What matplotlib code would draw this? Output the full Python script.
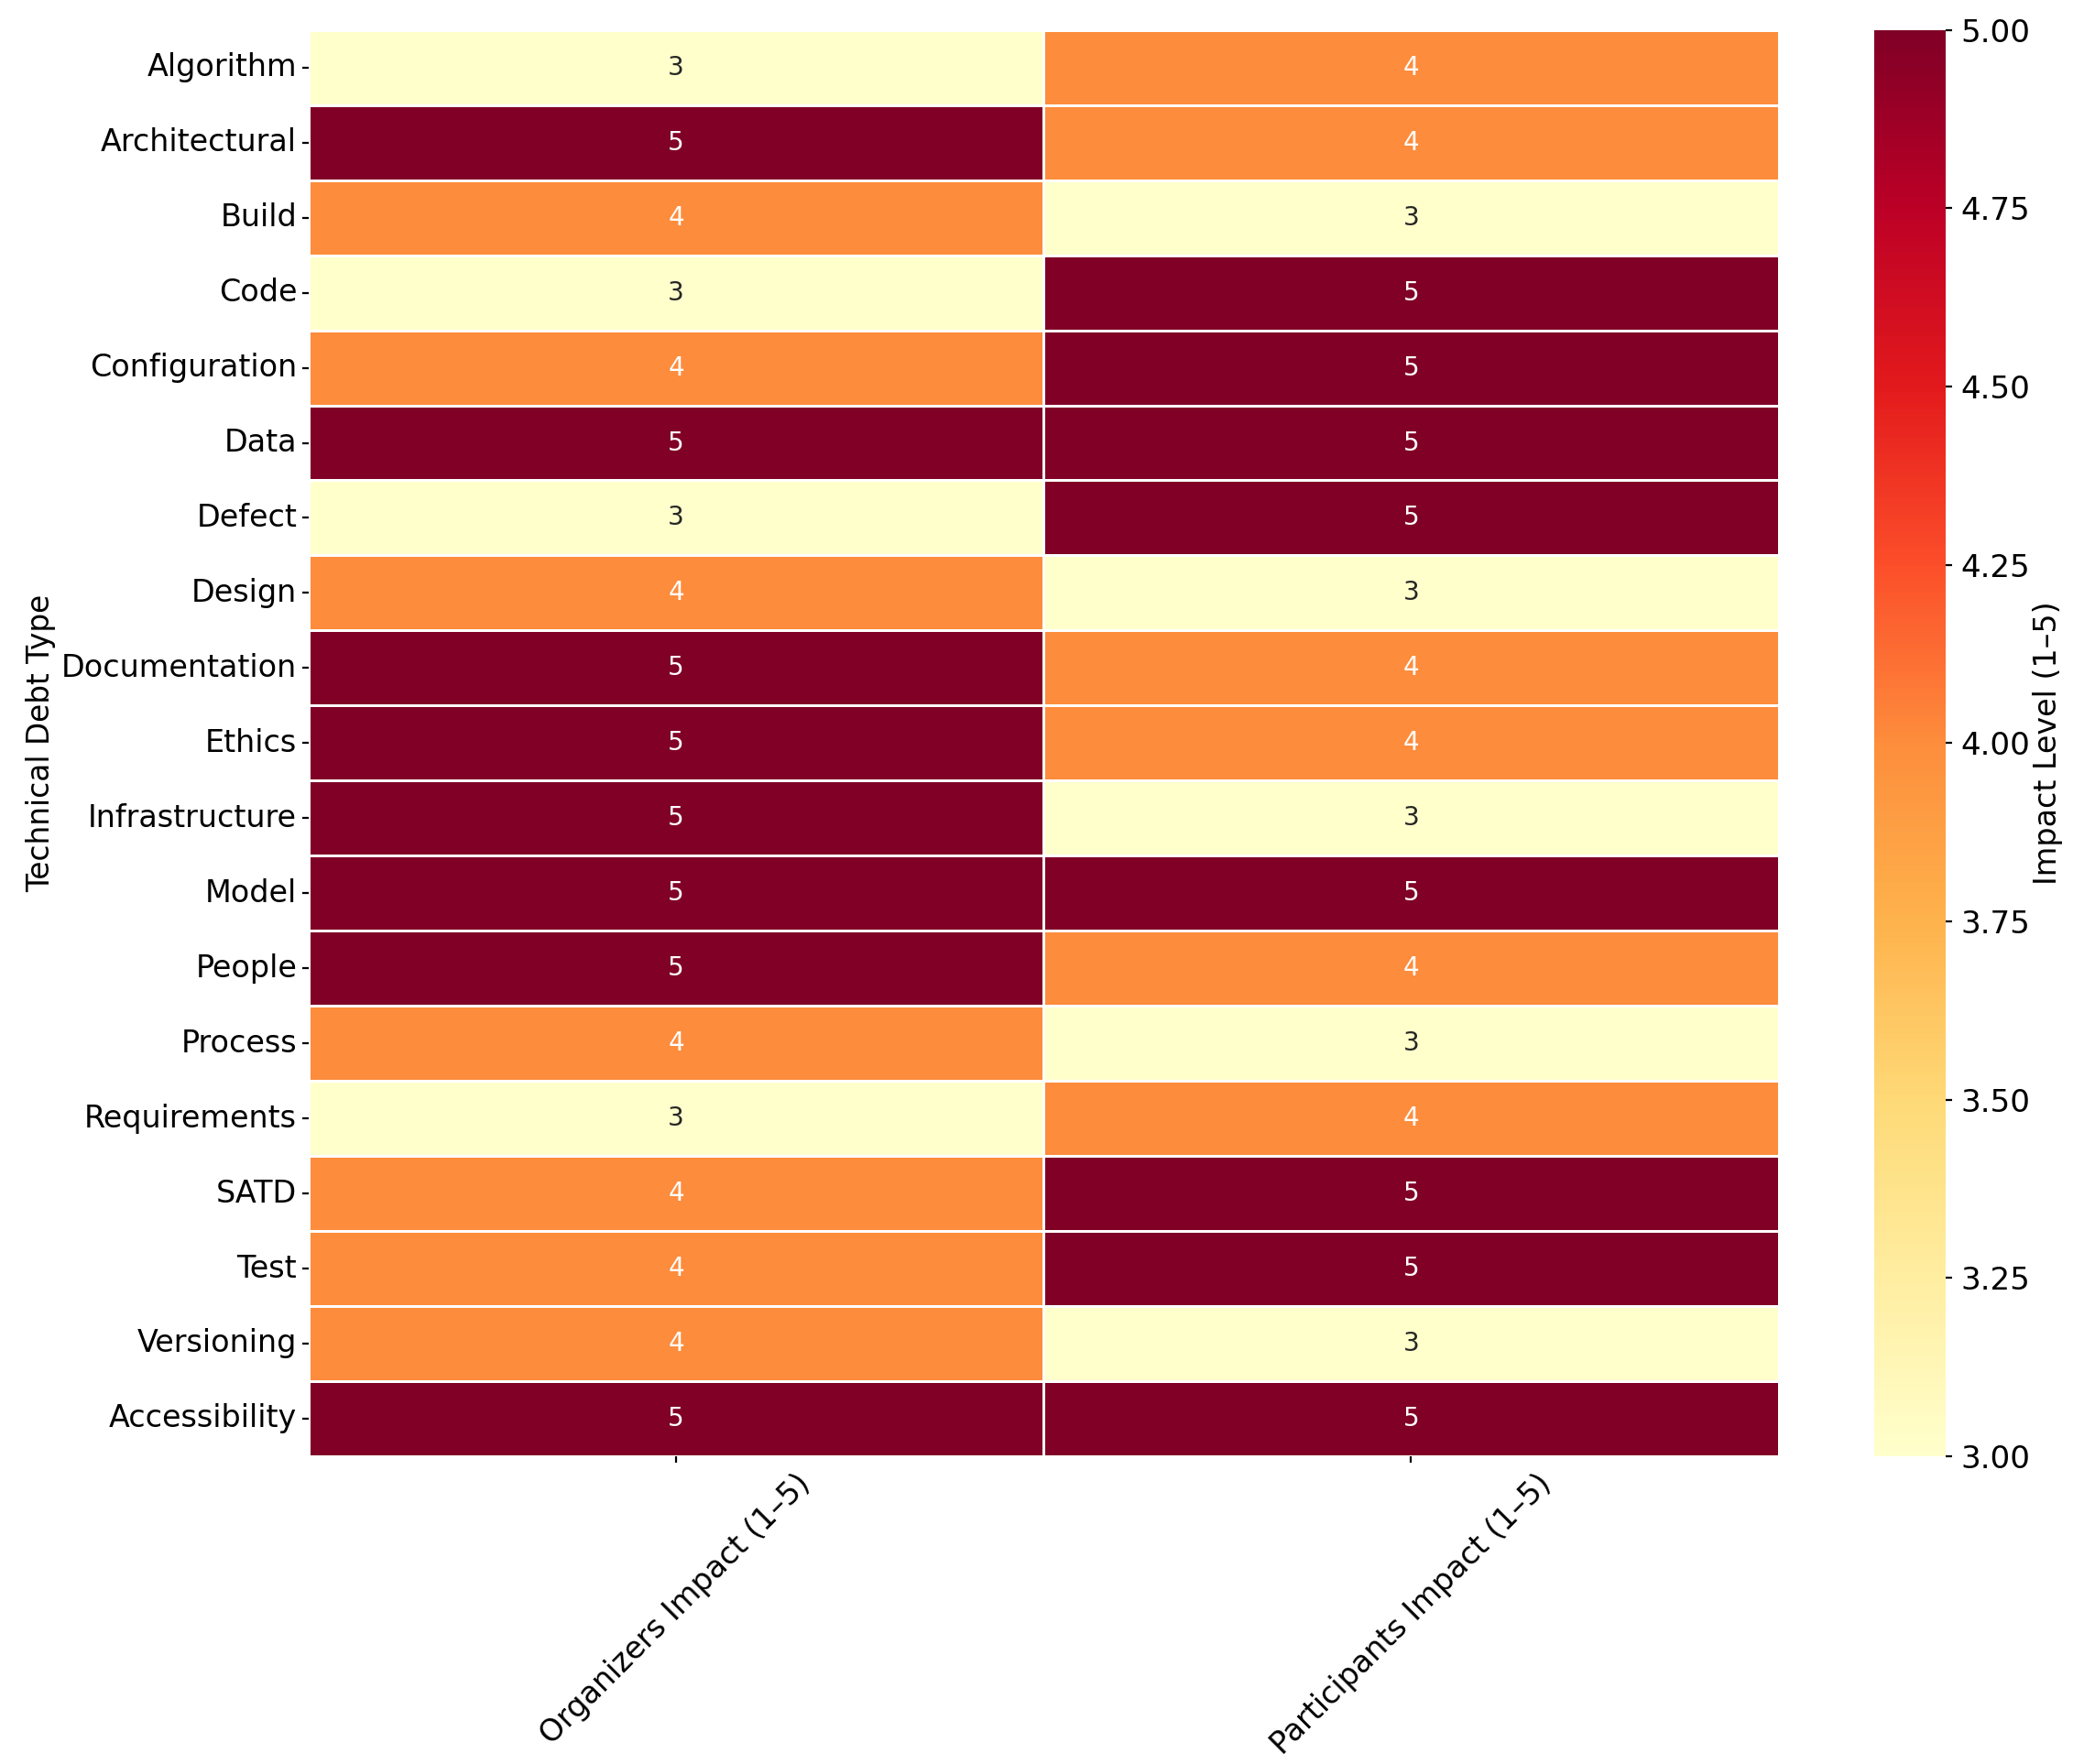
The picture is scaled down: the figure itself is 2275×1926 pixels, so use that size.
import matplotlib
matplotlib.use('Agg')
import matplotlib.pyplot as plt
import numpy as np
import pandas as pd
import seaborn as sns

debtTypes = ['Algorithm', 'Architectural', 'Build', 'Code', 'Configuration', 'Data',
             'Defect', 'Design', 'Documentation', 'Ethics', 'Infrastructure', 'Model',
             'People', 'Process', 'Requirements', 'SATD', 'Test', 'Versioning',
             'Accessibility']
organizersImpact = [3, 5, 4, 3, 4, 5, 3, 4, 5, 5, 5, 5, 5, 4, 3, 4, 4, 4, 5]
participantsImpact = [4, 4, 3, 5, 5, 5, 5, 3, 4, 4, 3, 5, 4, 3, 4, 5, 5, 3, 5]
columnNames = ['Organizers Impact (1–5)', 'Participants Impact (1–5)']
cbarTicks = [3.00, 3.25, 3.50, 3.75, 4.00, 4.25, 4.50, 4.75, 5.00]

df = pd.DataFrame({columnNames[0]: organizersImpact,
                   columnNames[1]: participantsImpact}, index=debtTypes)

fig = plt.figure(figsize=(11.375, 9.63), dpi=200)
ax = fig.add_axes([0.148, 0.1745, 0.7055, 0.8085])
cax = fig.add_axes([0.8995, 0.1745, 0.034, 0.8085])

sns.heatmap(df, ax=ax, cbar_ax=cax, cmap='YlOrRd', annot=True, fmt='d',
            linewidths=1, linecolor='white', annot_kws={'fontsize': 10},
            cbar_kws={'ticks': cbarTicks, 'format': '%.2f'})

ax.set_ylabel('Technical Debt Type', fontsize=11.8, labelpad=2)
ax.set_xlabel('')
ax.tick_params(axis='y', labelsize=12, rotation=0, length=2.5, pad=2)
ax.tick_params(axis='x', labelsize=12, length=2.5, pad=2.5)
plt.setp(ax.get_xticklabels(), rotation=45, ha='center')

cax.tick_params(labelsize=12.3, length=2.5)
cax.set_ylabel('Impact Level (1–5)', fontsize=12, labelpad=1)

fig.savefig('out.png', dpi=200)
